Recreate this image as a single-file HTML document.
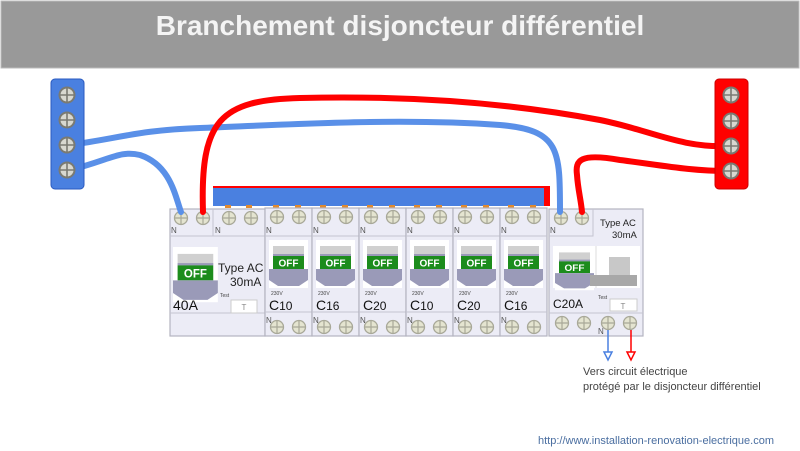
<!DOCTYPE html>
<html><head><meta charset="utf-8"><style>
html,body{margin:0;padding:0;background:#fff;}
svg{display:block;font-family:"Liberation Sans",sans-serif;}
</style></head><body>
<svg width="800" height="451" viewBox="0 0 800 451" xmlns="http://www.w3.org/2000/svg">
<defs>
<g id="sc"><circle r="7.5" fill="#d8d8d0" stroke="#7a7a72" stroke-width="2"/><path d="M-7 0H7M0 -7V7" stroke="#7a7a72" stroke-width="1.6"/></g>
<g id="ss"><circle r="6.5" fill="#e4e4d0" stroke="#a8a898" stroke-width="1.3"/><path d="M-6 0H6M0 -6V6" stroke="#a8a898" stroke-width="1.2"/></g>
<g id="lever">
<rect x="0" y="0" width="39" height="48" fill="#fff"/>
<rect x="4" y="6" width="31" height="10" fill="#d0d0d0"/>
<rect x="4" y="14" width="31" height="2" fill="#9a9ab8"/>
<rect x="4" y="16" width="31" height="13" fill="#1c8c1c"/>
<text x="19.5" y="26.5" font-size="10" font-weight="bold" fill="#fff" text-anchor="middle">OFF</text>
<path d="M0 29H39V40L30 46H9L0 40Z" fill="#9a9ab8"/>
</g>
<g id="mod">
<rect x="0" y="0" width="47" height="128" fill="#ececf6" stroke="#b4b4c0" stroke-width="1.2"/>
<line x1="0" y1="28" x2="47" y2="28" stroke="#c4c4d0"/>
<line x1="0" y1="104" x2="47" y2="104" stroke="#c4c4d0"/>
<text x="1" y="25" font-size="8" fill="#555">N</text>
<text x="1" y="115" font-size="8" fill="#555">N</text>
<use href="#ss" x="12" y="9"/><use href="#ss" x="34" y="9"/>
<use href="#ss" x="12" y="119"/><use href="#ss" x="34" y="119"/>
<use href="#lever" x="4" y="32"/>
<text x="6" y="87" font-size="5" fill="#444">230V</text>
</g>
</defs>

<rect x="1" y="1" width="798" height="67" fill="#999" stroke="#bbb"/>
<text x="400" y="35" font-size="28" font-weight="bold" fill="#f4f4f4" text-anchor="middle">Branchement disjoncteur différentiel</text>

<!-- busbar -->
<rect x="213" y="186" width="337" height="3" fill="#f00"/>
<rect x="543" y="186" width="7" height="20" fill="#f00"/>
<rect x="213" y="188" width="331" height="18" fill="#4a80e0"/>
<g fill="#e08a30"><rect x="225" y="205" width="6" height="3"/><rect x="246" y="205" width="6" height="3"/>
<rect x="273" y="205" width="6" height="3"/><rect x="295" y="205" width="6" height="3"/>
<rect x="320" y="205" width="6" height="3"/><rect x="342" y="205" width="6" height="3"/>
<rect x="367" y="205" width="6" height="3"/><rect x="389" y="205" width="6" height="3"/>
<rect x="414" y="205" width="6" height="3"/><rect x="436" y="205" width="6" height="3"/>
<rect x="461" y="205" width="6" height="3"/><rect x="483" y="205" width="6" height="3"/>
<rect x="508" y="205" width="6" height="3"/><rect x="530" y="205" width="6" height="3"/></g>

<!-- main RCD -->
<rect x="170" y="209" width="95" height="127" fill="#ececf6" stroke="#b4b4c0" stroke-width="1.2"/>
<line x1="170" y1="236" x2="265" y2="236" stroke="#c4c4d0"/>
<line x1="213" y1="209" x2="213" y2="236" stroke="#c4c4d0"/>
<line x1="170" y1="313" x2="265" y2="313" stroke="#c4c4d0"/>
<text x="171" y="233" font-size="8" fill="#555">N</text><text x="215" y="233" font-size="8" fill="#555">N</text>
<use href="#ss" x="181" y="218"/><use href="#ss" x="203" y="218"/><use href="#ss" x="229" y="218"/><use href="#ss" x="251" y="218"/>
<g transform="translate(173,247) scale(1.15)"><use href="#lever"/></g>
<text x="218" y="272" font-size="12" fill="#222">Type AC</text>
<text x="230" y="286" font-size="12" fill="#222">30mA</text>
<text x="220" y="297" font-size="5" fill="#444">Test</text>
<rect x="231" y="300" width="26" height="13" fill="#fff" stroke="#ccc"/>
<text x="244" y="310" font-size="8" fill="#888" text-anchor="middle">T</text>
<text x="173" y="310" font-size="14" fill="#111">40A</text>

<!-- modules -->
<g transform="translate(265,208)"><use href="#mod"/><text x="4" y="102" font-size="14" fill="#111">C<tspan font-size="12">10</tspan></text></g>
<g transform="translate(312,208)"><use href="#mod"/><text x="4" y="102" font-size="14" fill="#111">C<tspan font-size="12">16</tspan></text></g>
<g transform="translate(359,208)"><use href="#mod"/><text x="4" y="102" font-size="14" fill="#111">C<tspan font-size="12">20</tspan></text></g>
<g transform="translate(406,208)"><use href="#mod"/><text x="4" y="102" font-size="14" fill="#111">C<tspan font-size="12">10</tspan></text></g>
<g transform="translate(453,208)"><use href="#mod"/><text x="4" y="102" font-size="14" fill="#111">C<tspan font-size="12">20</tspan></text></g>
<g transform="translate(500,208)"><use href="#mod"/><text x="4" y="102" font-size="14" fill="#111">C<tspan font-size="12">16</tspan></text></g>

<!-- right RCD -->
<rect x="549" y="209" width="94" height="127" fill="#ececf6" stroke="#b4b4c0" stroke-width="1.2"/>
<path d="M549 236H593V209" fill="none" stroke="#c4c4d0"/>
<line x1="549" y1="313" x2="643" y2="313" stroke="#c4c4d0"/>
<text x="550" y="233" font-size="8" fill="#555">N</text>
<use href="#ss" x="561" y="218"/><use href="#ss" x="582" y="218"/>
<text x="600" y="226" font-size="9.5" fill="#222">Type AC</text>
<text x="612" y="238" font-size="9.5" fill="#222">30mA</text>
<rect x="553" y="246" width="87" height="42" fill="#fff"/>
<line x1="596" y1="246" x2="596" y2="288" stroke="#ddd"/>
<g transform="translate(555,247) scale(1,0.9)"><use href="#lever"/></g>
<rect x="609" y="257" width="21" height="18" fill="#c8c8c8"/>
<rect x="590" y="275" width="47" height="11" fill="#a8a8a8"/>
<text x="553" y="308" font-size="12" fill="#111">C20A</text>
<text x="598" y="299" font-size="5" fill="#444">Test</text>
<rect x="610" y="299" width="27" height="12" fill="#fff" stroke="#ccc"/>
<text x="623" y="309" font-size="8" fill="#888" text-anchor="middle">T</text>
<use href="#ss" x="562" y="323"/><use href="#ss" x="584" y="323"/><use href="#ss" x="608" y="323"/><use href="#ss" x="630" y="323"/>
<text x="598" y="334" font-size="8" fill="#555">N</text>

<!-- wires -->
<g fill="none" stroke-width="6" stroke-linecap="round">
<path d="M70 145C120 138 140 130 200 128C300 124 400 118 500 125C560 130 560 150 560 212" stroke="#5a90e8"/>
<path d="M70 170C110 160 120 150 140 155C170 165 175 195 181 212" stroke="#5a90e8"/>
<path d="M728 146C680 148 650 130 600 120C520 105 420 95 300 98C220 100 200 120 203 212" stroke="#f00"/>
<path d="M728 171C690 171 660 165 620 160C580 153 575 160 577 175C578 190 581 200 582 212" stroke="#f00"/>
</g>

<!-- terminal blocks -->
<rect x="51" y="79" width="33" height="110" rx="4" fill="#4a80e0" stroke="#2a5ac0"/>
<use href="#sc" x="67" y="95"/><use href="#sc" x="67" y="120"/><use href="#sc" x="67" y="145"/><use href="#sc" x="67" y="170"/>
<rect x="715" y="79" width="33" height="110" rx="4" fill="#f00" stroke="#c00"/>
<use href="#sc" x="731" y="95"/><use href="#sc" x="731" y="121"/><use href="#sc" x="731" y="146"/><use href="#sc" x="731" y="171"/>

<!-- output arrows -->
<line x1="608" y1="330" x2="608" y2="352" stroke="#4a80e0" stroke-width="1.5"/>
<path d="M604 352H612L608 360Z" fill="#fff" stroke="#4a80e0" stroke-width="1.5"/>
<line x1="631" y1="330" x2="631" y2="352" stroke="#f00" stroke-width="1.5"/>
<path d="M627 352H635L631 360Z" fill="#fff" stroke="#f00" stroke-width="1.5"/>
<text x="583" y="375" font-size="11" fill="#444">Vers circuit électrique</text>
<text x="583" y="390" font-size="11" fill="#444">protégé par le disjoncteur différentiel</text>

<text x="538" y="444" font-size="11" fill="#4a6ea0">http://www.installation-renovation-electrique.com</text>
</svg>
</body></html>
